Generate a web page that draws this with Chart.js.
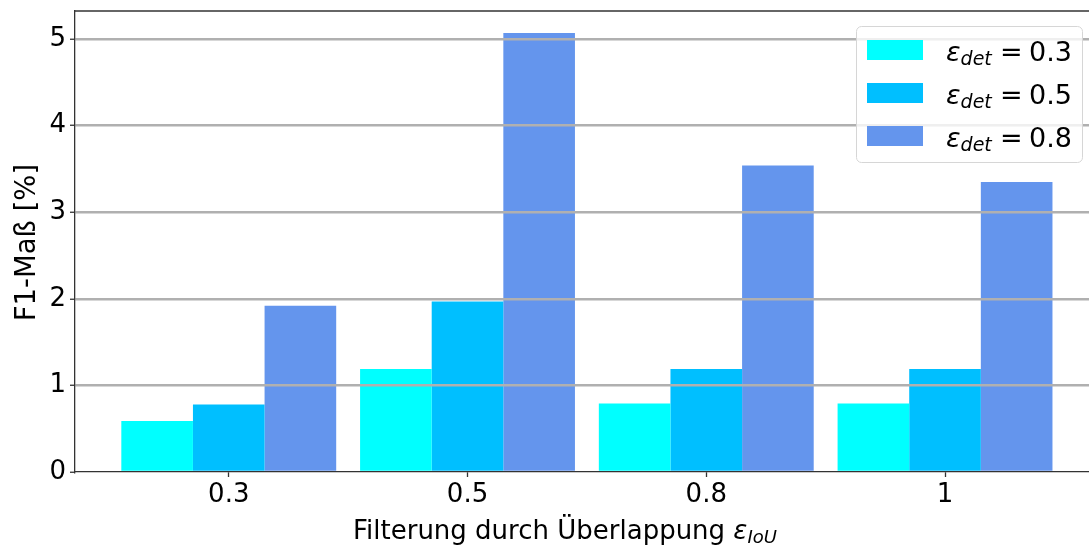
<!DOCTYPE html>
<html lang="de">
<head>
  <meta charset="UTF-8" />
  <title>F1-Maß</title>
  <script src="https://cdn.jsdelivr.net/npm/chart.js"></script>
  <style>
    * { margin: 0; padding: 0; box-sizing: border-box; }
    html, body { width: 1089px; height: 552px; overflow: hidden; background: #fff; }
    #wrap { width: 1089px; height: 552px; }
  </style>
</head>
<body>
  <div id="wrap"><canvas id="chart" width="1089" height="552"></canvas></div>

  <script>
    // data
    const categories = ['0.3', '0.5', '0.8', '1'];
    const seriesNames = ['0.3', '0.5', '0.8'];
    const det03 = [0.59, 1.19, 0.79, 0.79];
    const det05 = [0.78, 1.97, 1.19, 1.19];
    const det08 = [1.92, 5.07, 3.54, 3.35];
    const yTicks = [0, 1, 2, 3, 4, 5];
    const colors = ['#00ffff', '#00bfff', '#6495ed'];

    const FONT = "'DejaVu Sans', sans-serif";
    const AXIS = '#333333';

    function toPoints(arr) {
      return arr.map((v, i) => ({ x: i, y: v }));
    }

    // italic epsilon with an italic subscript
    function epsSub(ctx, x, y, size, sub) {
      ctx.textBaseline = 'alphabetic';
      ctx.textAlign = 'left';
      ctx.font = 'italic ' + size + 'px ' + FONT;
      ctx.fillText('ε', x, y);
      x += ctx.measureText('ε').width;
      ctx.font = 'italic ' + Math.round(size * 0.7) + 'px ' + FONT;
      ctx.fillText(sub, x, y + size * 0.14);
      return x + ctx.measureText(sub).width;
    }

    const extras = {
      id: 'extras',
      afterDraw(chart) {
        const ctx = chart.ctx;
        const a = chart.chartArea;
        ctx.save();
        // top spine
        ctx.strokeStyle = AXIS;
        ctx.lineWidth = 1.3;
        ctx.beginPath();
        ctx.moveTo(a.left, a.top);
        ctx.lineTo(a.right, a.top);
        ctx.stroke();

        // legend box
        const bx = 856.5, by = 26.5, bw = 226, bh = 136, r = 5;
        ctx.beginPath();
        ctx.moveTo(bx + r, by);
        ctx.arcTo(bx + bw, by, bx + bw, by + bh, r);
        ctx.arcTo(bx + bw, by + bh, bx, by + bh, r);
        ctx.arcTo(bx, by + bh, bx, by, r);
        ctx.arcTo(bx, by, bx + bw, by, r);
        ctx.closePath();
        ctx.fillStyle = 'rgba(255,255,255,0.8)';
        ctx.fill();
        ctx.strokeStyle = '#d6d6d6';
        ctx.lineWidth = 1;
        ctx.stroke();
        seriesNames.forEach((name, i) => {
          const rowY = 40 + i * 43;
          ctx.fillStyle = colors[i];
          ctx.fillRect(867, rowY, 56, 20);
          ctx.fillStyle = '#000';
          const base = rowY + 21;
          epsSub(ctx, 946, base, 27, 'det');
          ctx.font = '27px ' + FONT;
          ctx.fillText('=', 1000, base);
          ctx.fillText(name, 1029, base);
        });

        // x axis title
        ctx.fillStyle = '#000';
        ctx.font = '26px ' + FONT;
        ctx.textAlign = 'left';
        ctx.textBaseline = 'alphabetic';
        const t = 'Filterung durch Überlappung ';
        ctx.fillText(t, 353, 539);
        epsSub(ctx, 353 + ctx.measureText(t).width, 539, 26, 'IoU');

        // y axis title
        ctx.save();
        ctx.translate(35, 242.5);
        ctx.rotate(-Math.PI / 2);
        ctx.font = '27.5px ' + FONT;
        ctx.textAlign = 'center';
        ctx.textBaseline = 'alphabetic';
        ctx.fillStyle = '#000';
        ctx.fillText('F1-Maß [%]', 0, 0);
        ctx.restore();
        ctx.restore();
      }
    };

    const chart = new Chart(document.getElementById('chart'), {
      type: 'bar',
      data: {
        datasets: [
          { data: toPoints(det03), backgroundColor: colors[0] },
          { data: toPoints(det05), backgroundColor: colors[1] },
          { data: toPoints(det08), backgroundColor: colors[2] }
        ]
      },
      options: {
        responsive: false,
        animation: false,
        events: [],
        layout: { padding: { top: 11, right: 0, left: 0, bottom: 0 } },
        plugins: { legend: { display: false }, tooltip: { enabled: false } },
        datasets: { bar: { categoryPercentage: 0.9, barPercentage: 1.0, borderWidth: 0 } },
        scales: {
          x: {
            type: 'linear',
            offset: false,
            min: -0.644,
            max: 3.603,
            afterBuildTicks(scale) {
              scale.ticks = categories.map((c, i) => ({ value: i }));
            },
            afterFit(scale) {
              scale.height = 80;
              scale.paddingLeft = 0;
              scale.paddingRight = 0;
            },
            ticks: {
              callback: (v) => categories[v],
              font: { family: FONT, size: 26 },
              color: '#000',
              padding: 3,
              maxRotation: 0
            },
            grid: {
              offset: false,
              drawOnChartArea: false,
              drawTicks: true,
              tickLength: 5,
              tickColor: AXIS,
              tickWidth: 1.3
            },
            border: { display: true, color: AXIS, width: 1.3, z: 2 }
          },
          y: {
            min: 0,
            max: 5.325,
            afterBuildTicks(scale) {
              scale.ticks = yTicks.map(v => ({ value: v }));
            },
            afterFit(scale) {
              scale.width = 75;
              scale.paddingTop = 0;
              scale.paddingBottom = 0;
            },
            ticks: {
              font: { family: FONT, size: 26 },
              color: '#000',
              padding: 4
            },
            grid: {
              z: 1,
              color: (c) => c.tick && c.tick.value === 0 ? 'rgba(0,0,0,0)' : '#b0b0b0',
              lineWidth: 2.5,
              tickLength: 5,
              tickColor: AXIS,
              tickWidth: 1.3
            },
            border: { display: true, color: AXIS, width: 1.3, z: 2 }
          }
        }
      },
      plugins: [extras]
    });
  </script>
</body>
</html>
